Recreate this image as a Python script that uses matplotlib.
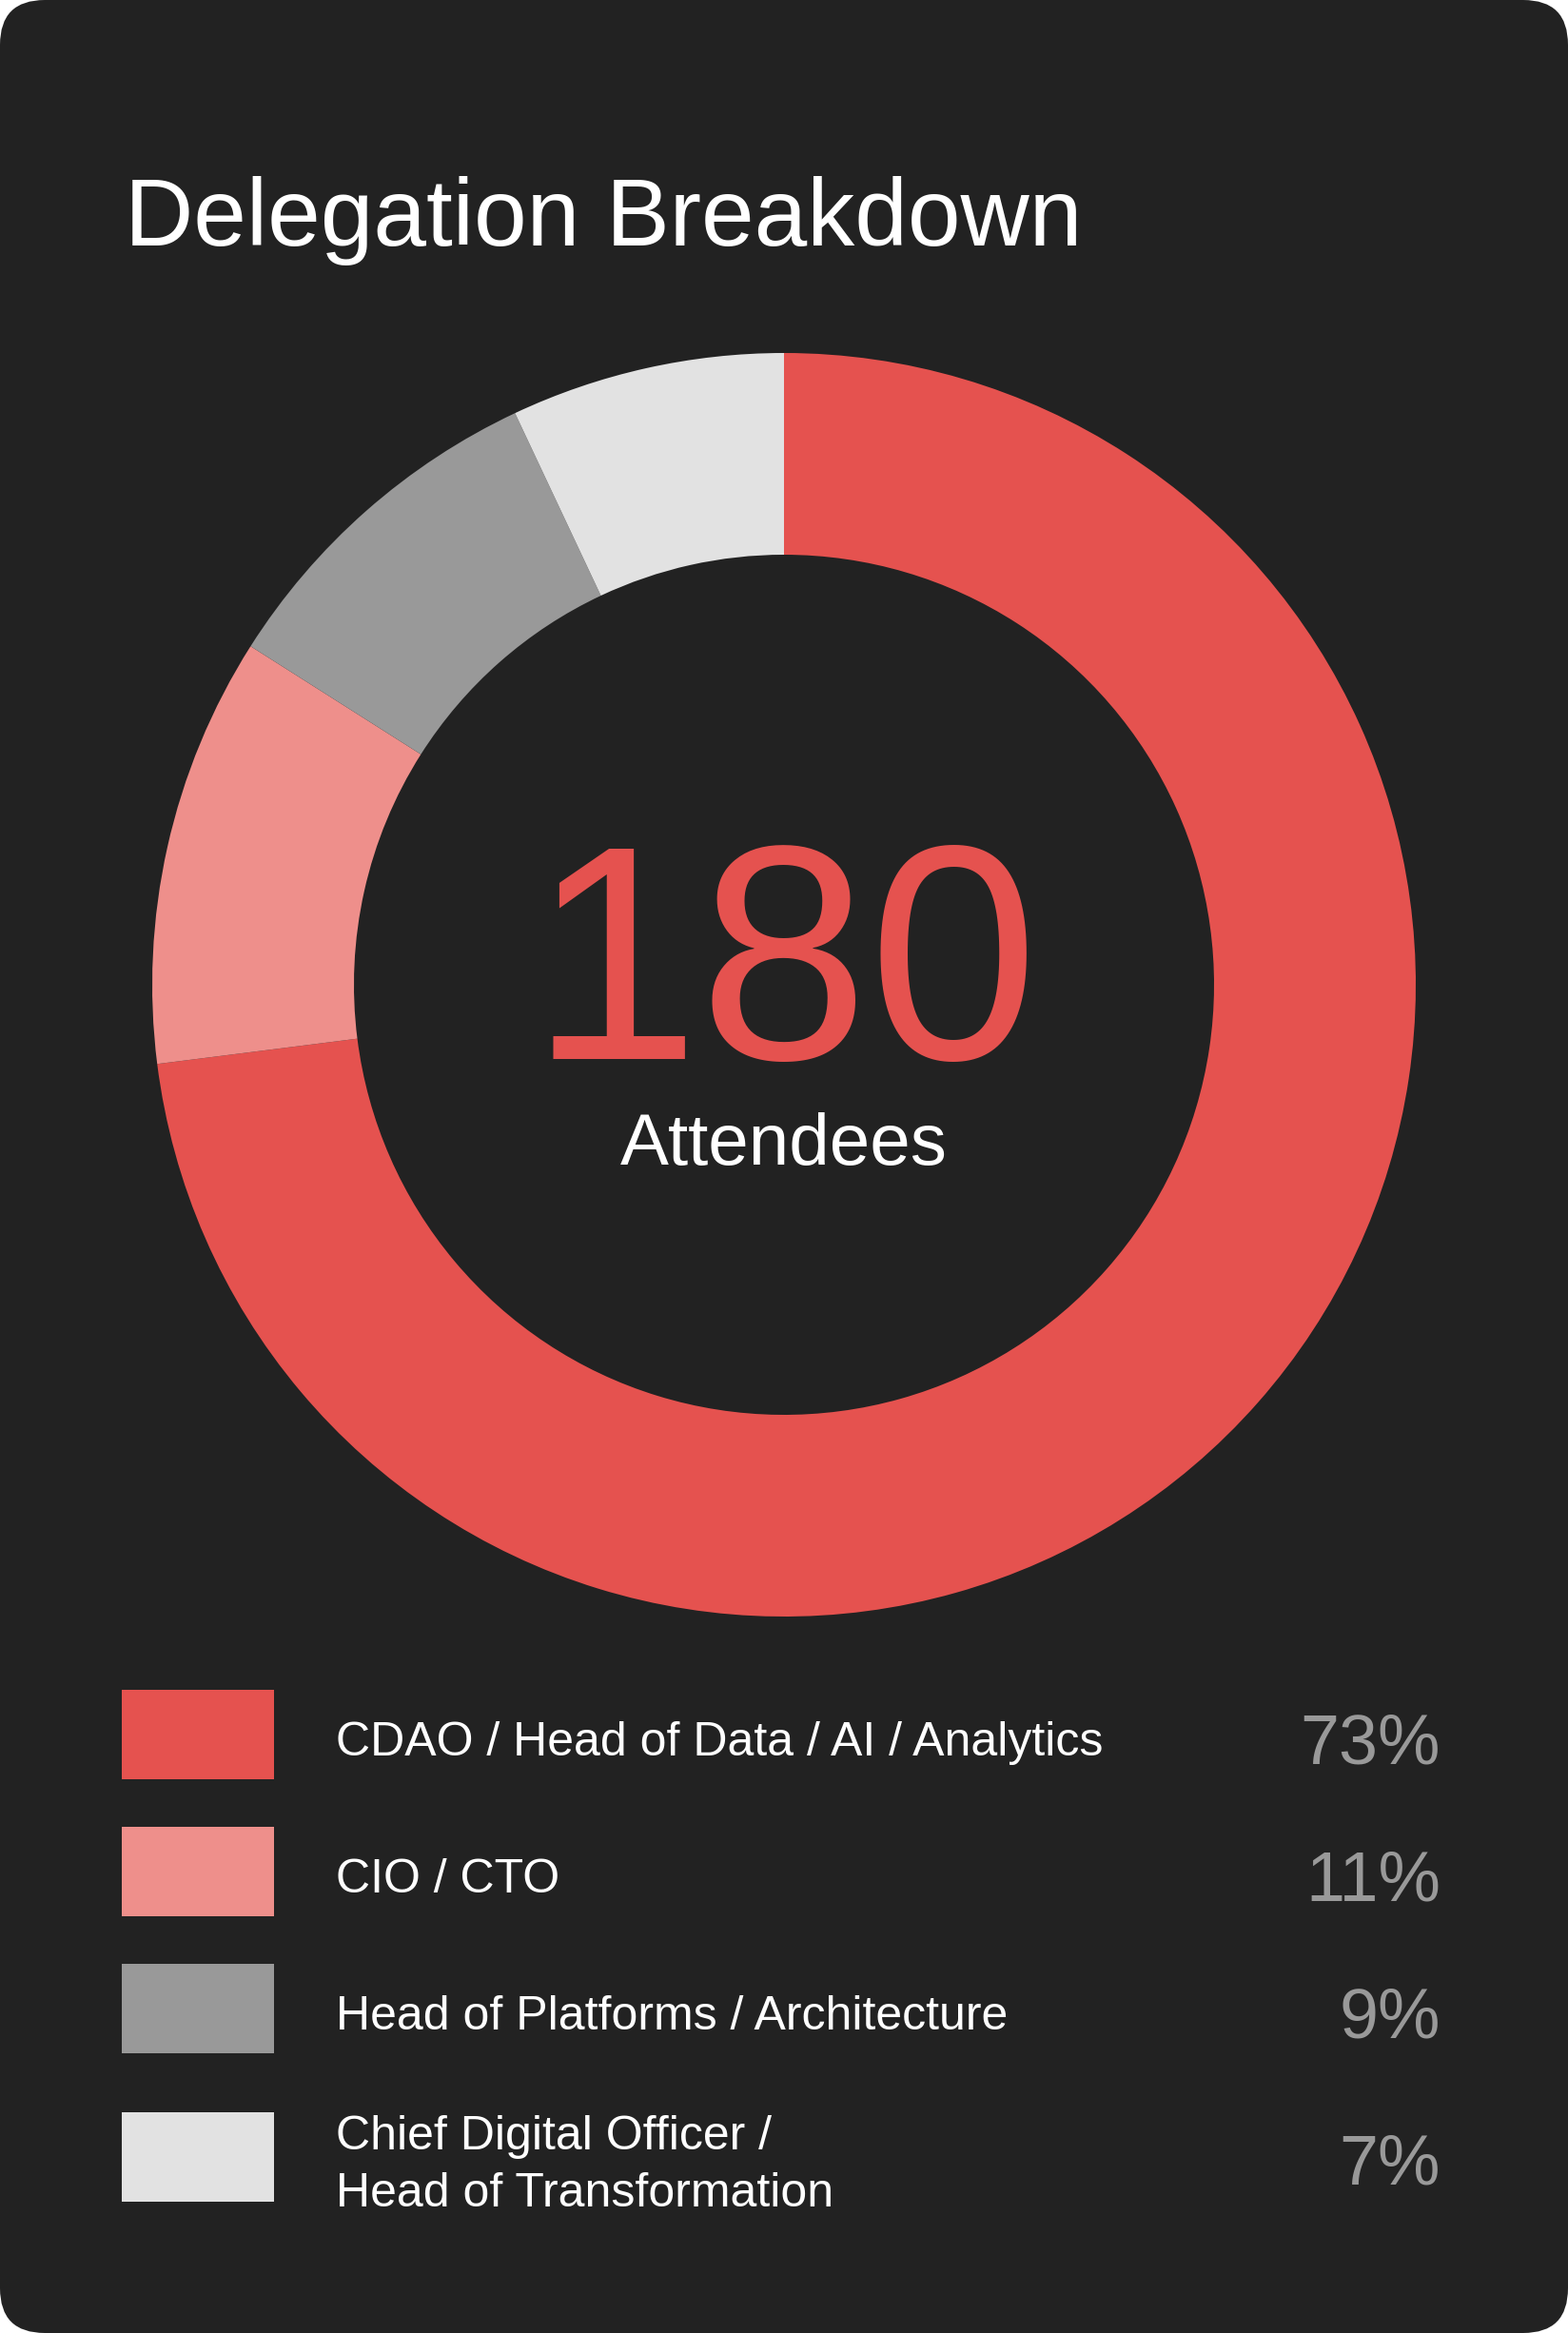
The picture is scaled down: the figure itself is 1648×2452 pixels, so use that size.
import matplotlib.pyplot as plt
from matplotlib.patches import FancyBboxPatch, Rectangle

plt.rcParams['font.family'] = ['Liberation Sans', 'DejaVu Sans']

# data
roles = ['CDAO / Head of Data / AI / Analytics', 'CIO / CTO',
         'Head of Platforms / Architecture',
         'Chief Digital Officer /\nHead of Transformation']
shares = [73, 11, 9, 7]
colors = ['#E5524F', '#EE8F8B', '#999999', '#E2E2E2']
total = 180

W, H = 1648, 2452
fig = plt.figure(figsize=(W / 100, H / 100), dpi=100, facecolor='white')
ax = fig.add_axes([0, 0, 1, 1])

# card background
card = FancyBboxPatch((0, 0), W, H, boxstyle='round,pad=0,rounding_size=47',
                      facecolor='#222222', edgecolor='none')
ax.add_patch(card)

# donut
ax.pie(shares, colors=colors, startangle=90, counterclock=False,
       radius=664, center=(824, H - 1035),
       wedgeprops=dict(width=212, linewidth=0))

ax.set_xlim(0, W)
ax.set_ylim(0, H)
ax.set_aspect('equal')
ax.axis('off')

ax.text(131, H - 258, 'Delegation Breakdown', color='white', fontsize=72,
        ha='left', va='baseline')
ax.text(824, H - 1113, str(total), color='#E5524F', fontsize=231,
        ha='center', va='baseline')
ax.text(824, H - 1224, 'Attendees', color='white', fontsize=55,
        ha='center', va='baseline')

# legend
box_tops = [1776, 1920, 2064, 2220]
label_base = [1845, 1989, 2133, 2259]
pct_base = [1854, 1998, 2142, 2295]
for i, (r, s, c) in enumerate(zip(roles, shares, colors)):
    ax.add_patch(Rectangle((128, H - box_tops[i] - 94), 160, 94,
                           facecolor=c, edgecolor='none'))
    if '\n' in r:
        for j, line in enumerate(r.split('\n')):
            ax.text(353, H - label_base[i] - 60 * j, line, color='white',
                    fontsize=36, ha='left', va='baseline')
    else:
        ax.text(353, H - label_base[i], r, color='white', fontsize=36,
                ha='left', va='baseline')
    ax.text(1514, H - pct_base[i], f'{s}%', color='#999999', fontsize=53,
            ha='right', va='baseline')

fig.savefig('out.png', dpi=100, facecolor='white')
